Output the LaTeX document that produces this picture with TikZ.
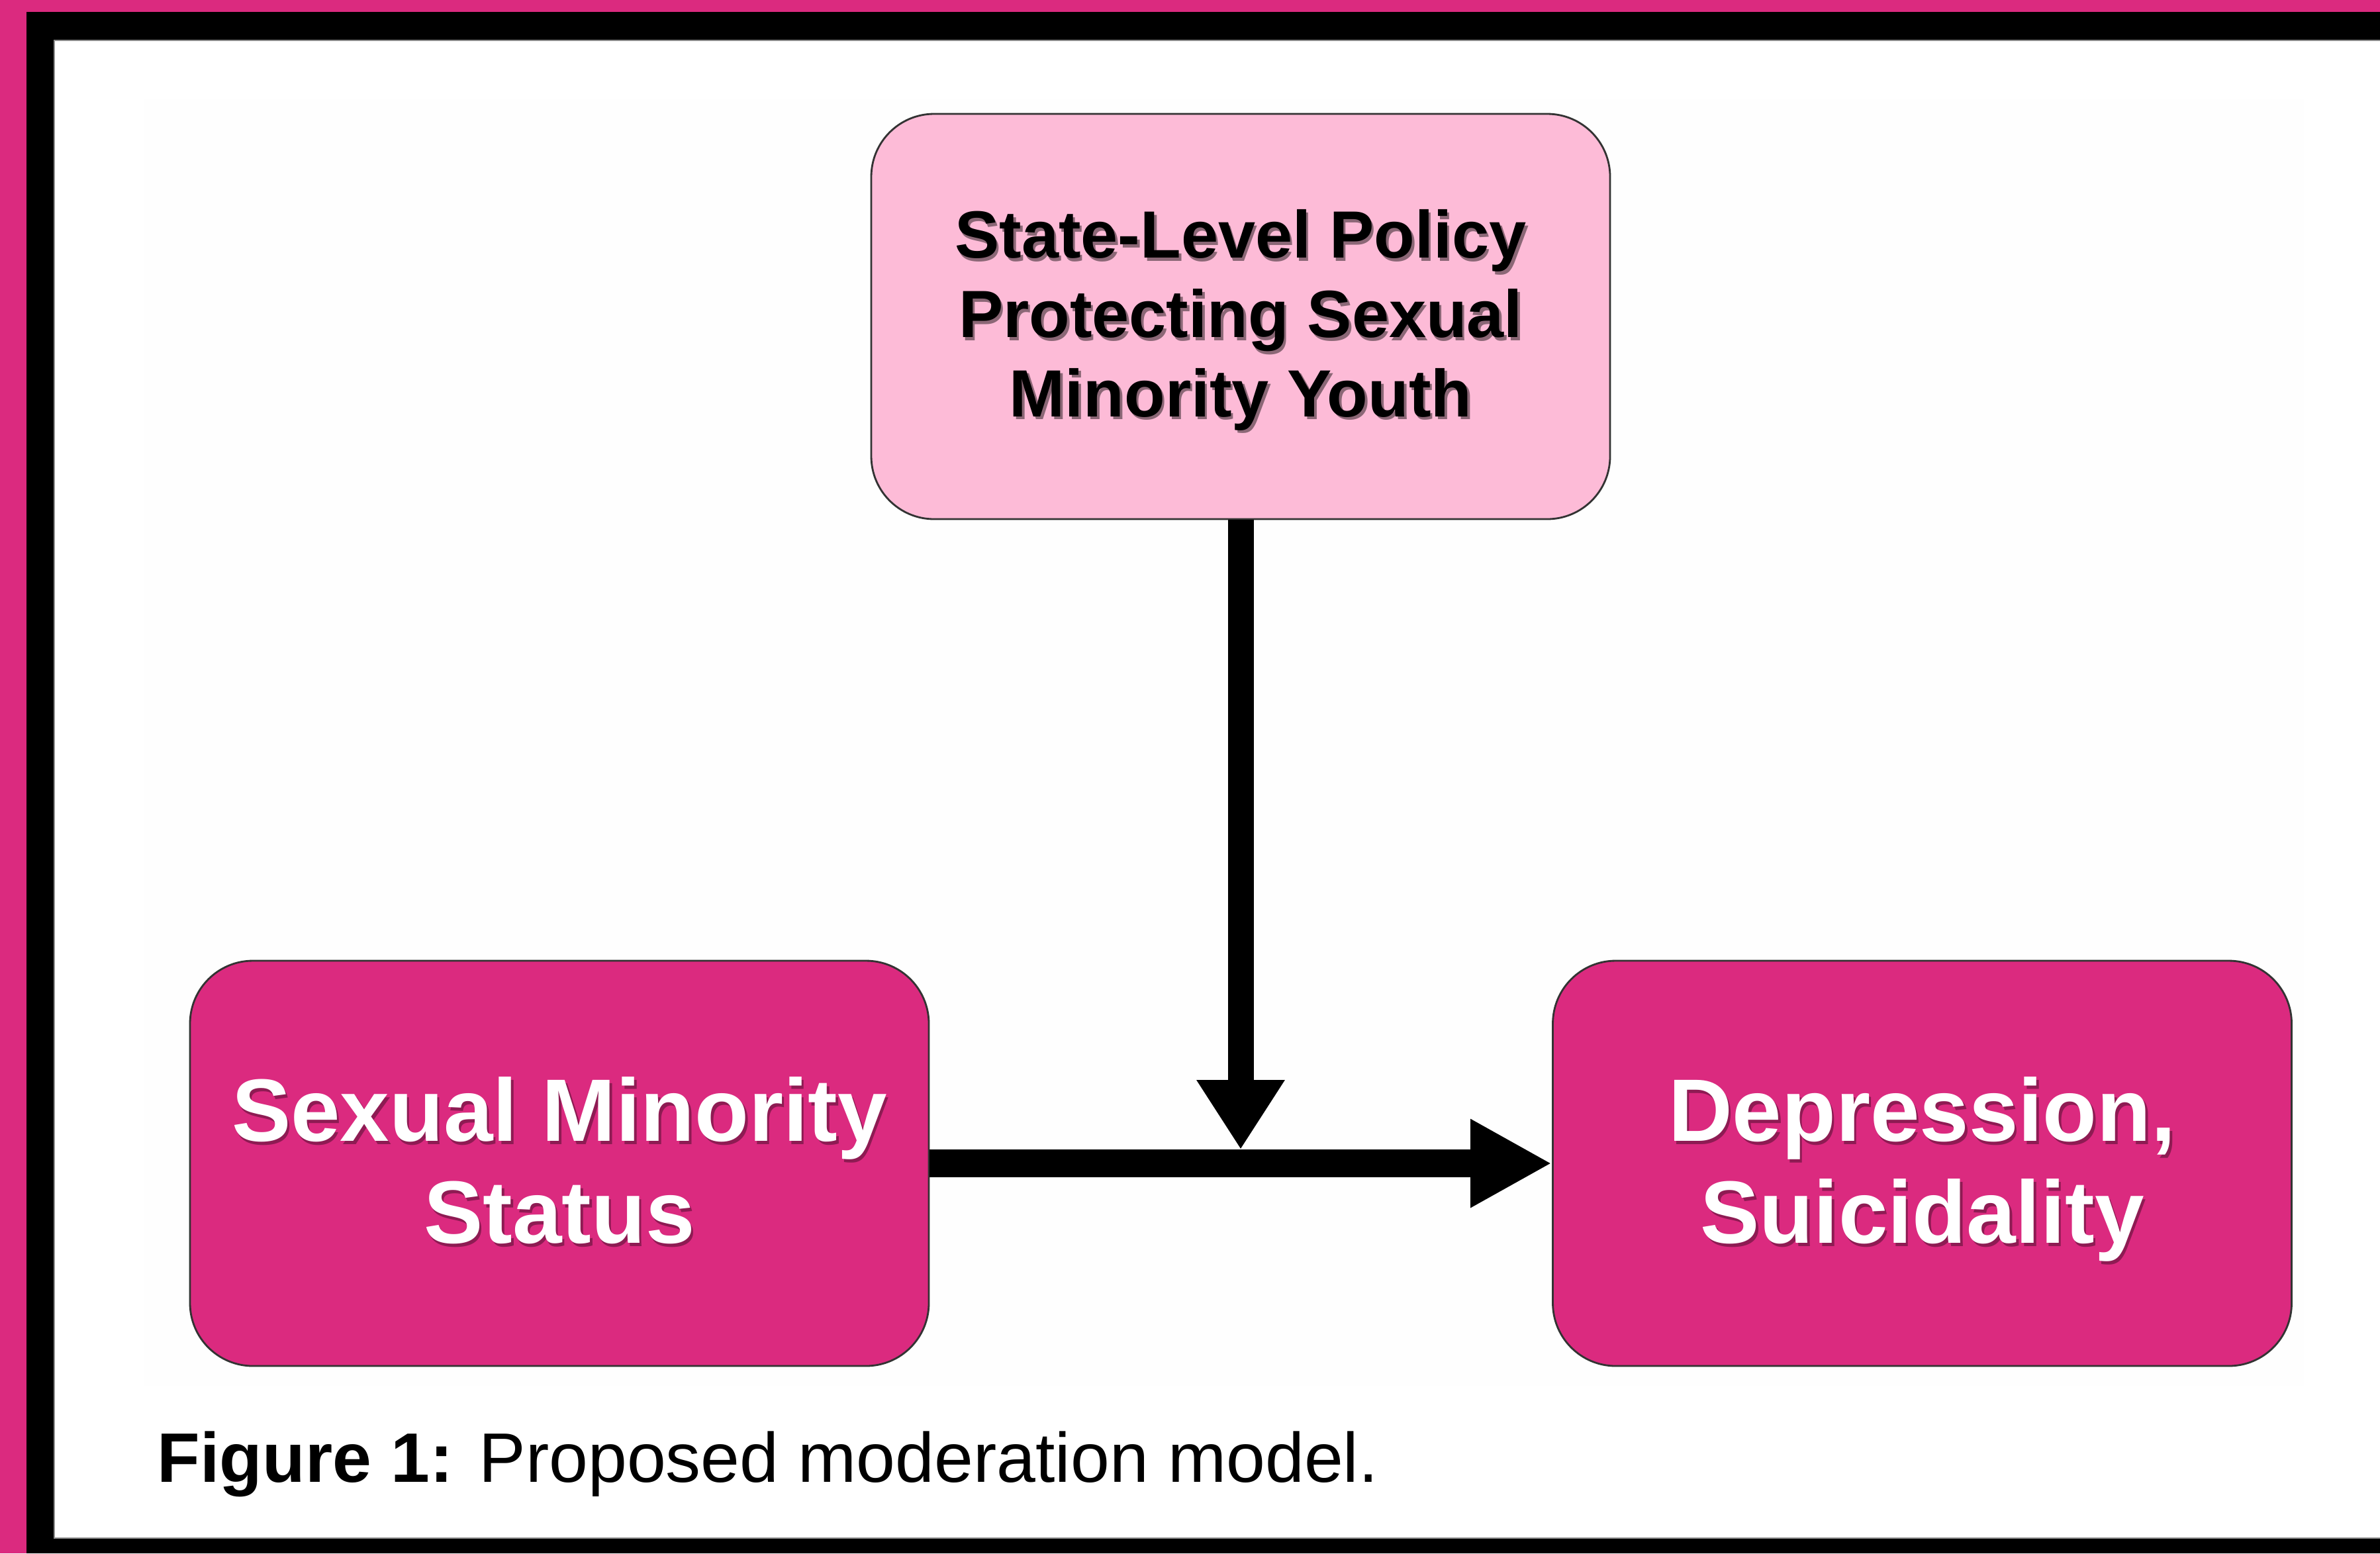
\documentclass[tikz,border=0pt]{standalone}
\usepackage{fontspec}
\setmainfont{Liberation Sans}
\usepackage{tikz}
\usetikzlibrary{calc,arrows.meta}
\definecolor{magpink}{RGB}{219,42,127}
\definecolor{softpink}{RGB}{253,187,215}
\newcommand{\txtshadow}[2]{\leavevmode\rlap{\hspace{0.035cm}\raisebox{-0.045cm}{\color{#1}#2}}#2}

\begin{document}
\begin{tikzpicture}[
	boxed/.style={rounded corners=0.95cm,draw=black!80,line width=0.8pt,minimum width=11.16cm,minimum height=6.12cm,inner sep=0pt,align=center,text depth=0.1cm},
	soft/.style={boxed,fill=softpink,font=\bfseries\fontsize{28.7pt}{34.1pt}\selectfont},
	strong/.style={boxed,fill=magpink,text=white,font=\bfseries\fontsize{38.1pt}{43.8pt}\selectfont},
	wide/.style={line width=0.42cm,arrows={-Triangle[length=1.23cm,width=1.25cm]}},
	slim/.style={line width=0.39cm,arrows={-Triangle[length=1.05cm,width=1.26cm]}}]
	\useasboundingbox (0,0) rectangle (35.95,-23.46);
	\fill[magpink] (0,0) rectangle (35.95,-23.46);
	\fill[black] (0.40,-0.18) rectangle (35.95,-23.46);
	\filldraw[fill=white,draw=black!45,line width=0.4pt] (0.82,-0.61) rectangle (36.2,-23.23);
	\fill[black!0.3] (2.18,-1.50) rectangle (34.80,-20.93);
	\node[soft] (pol) at (18.74,-4.78) {\txtshadow{softpink!55!black}{State-Level Policy}\\
		\txtshadow{softpink!55!black}{Protecting Sexual}\\
		\txtshadow{softpink!55!black}{Minority Youth}};
	\node[strong] (sms) at (8.45,-17.57) {\txtshadow{magpink!65!black}{Sexual Minority}\\
		\txtshadow{magpink!65!black}{Status}};
	\node[strong] (dep) at ($ (sms) + (20.585,0) $) {\txtshadow{magpink!65!black}{Depression,}\\
		\txtshadow{magpink!65!black}{Suicidality}};
	\coordinate (mid) at ($ (pol.south |- sms.east) + (0,0.21) $);
	\draw[wide] (sms) -- (dep);
	\draw[slim] (pol) -- (mid);
	\node[anchor=base west,inner sep=0pt,font=\fontsize{30.1pt}{36pt}\selectfont] (cap) at (2.37,-22.38) {\textbf{Figure 1:} Proposed moderation model.};
\end{tikzpicture}
\end{document}
